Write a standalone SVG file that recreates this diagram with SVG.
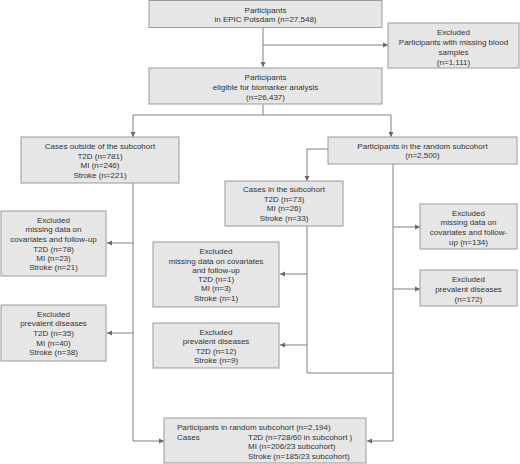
<svg xmlns="http://www.w3.org/2000/svg" width="520" height="464" viewBox="0 0 520 464">
<style>
rect.b{fill:#e6e6e6;stroke:#9a9a9a;stroke-width:1}
text{font-family:"Liberation Sans",Arial,sans-serif;font-size:8px;fill:#333}
.c{text-anchor:middle}
.l{fill:none;stroke:#808080;stroke-width:1}
</style>
<defs>
<marker id="ah" markerUnits="userSpaceOnUse" markerWidth="6" markerHeight="6" refX="5" refY="3" orient="auto">
<path d="M0,0.5 L5,3 L0,5.5 Z" fill="#6a6a6a"/>
</marker>
</defs>
<rect width="520" height="464" fill="#fff"/>
<g id="connectors">
<path class="l" d="M263,27.5 V67" marker-end="url(#ah)"/>
<path class="l" d="M263,45 H388" marker-end="url(#ah)"/>
<path class="l" d="M263,104.5 V115"/>
<path class="l" d="M133,115 H391"/>
<path class="l" d="M133,115 V137" marker-end="url(#ah)"/>
<path class="l" d="M391,115 V137" marker-end="url(#ah)"/>
<path class="l" d="M133,183 V441 H164" marker-end="url(#ah)"/>
<path class="l" d="M133,243 H107" marker-end="url(#ah)"/>
<path class="l" d="M133,333 H107" marker-end="url(#ah)"/>
<path class="l" d="M328,149 H307 V181" marker-end="url(#ah)"/>
<path class="l" d="M307,226 V373 H393"/>
<path class="l" d="M307,274 H280" marker-end="url(#ah)"/>
<path class="l" d="M307,345 H280" marker-end="url(#ah)"/>
<path class="l" d="M393,164 V441 H367" marker-end="url(#ah)"/>
<path class="l" d="M393,227 H420" marker-end="url(#ah)"/>
<path class="l" d="M393,289 H420" marker-end="url(#ah)"/>
</g>
<g id="n-epic">
<rect class="b" x="149" y="0.5" width="233" height="27"/>
<text class="c" x="265.5" y="13">Participants</text>
<text class="c" x="265.5" y="22">in EPIC Potsdam (n=27,548)</text>
</g>
<g id="n-excl-blood">
<rect class="b" x="388" y="23" width="131" height="45"/>
<text class="c" x="453.5" y="35">Excluded</text>
<text class="c" x="453.5" y="45">Participants with missing blood</text>
<text class="c" x="453.5" y="55">samples</text>
<text class="c" x="453.5" y="65">(n=1,111)</text>
</g>
<g id="n-eligible">
<rect class="b" x="149" y="68" width="233" height="36"/>
<text class="c" x="265.5" y="80">Participants</text>
<text class="c" x="265.5" y="89.5">eligible for biomarker analysis</text>
<text class="c" x="265.5" y="100">(n=26,437)</text>
</g>
<g id="n-cases-outside">
<rect class="b" x="21" y="137" width="158" height="46"/>
<text class="c" x="100" y="149">Cases outside of the subcohort</text>
<text class="c" x="100" y="159">T2D (n=781)</text>
<text class="c" x="100" y="168">MI (n=246)</text>
<text class="c" x="100" y="178">Stroke (n=221)</text>
</g>
<g id="n-random">
<rect class="b" x="328" y="137" width="189" height="27"/>
<text class="c" x="422.5" y="149">Participants in the random subcohort</text>
<text class="c" x="422.5" y="158">(n=2,500)</text>
</g>
<g id="n-excl-l1">
<rect class="b" x="1" y="211" width="105" height="65"/>
<text class="c" x="53.5" y="223">Excluded</text>
<text class="c" x="53.5" y="232">missing data on</text>
<text class="c" x="53.5" y="242">covariates and follow-up</text>
<text class="c" x="53.5" y="252">T2D (n=78)</text>
<text class="c" x="53.5" y="261">MI (n=23)</text>
<text class="c" x="53.5" y="270">Stroke (n=21)</text>
</g>
<g id="n-excl-l2">
<rect class="b" x="1" y="305" width="105" height="56"/>
<text class="c" x="53.5" y="317">Excluded</text>
<text class="c" x="53.5" y="326">prevalent diseases</text>
<text class="c" x="53.5" y="336">T2D (n=35)</text>
<text class="c" x="53.5" y="346">MI (n=40)</text>
<text class="c" x="53.5" y="355">Stroke (n=38)</text>
</g>
<g id="n-cases-sub">
<rect class="b" x="225" y="181" width="118" height="45"/>
<text class="c" x="284" y="192">Cases in the subcohort</text>
<text class="c" x="284" y="202">T2D (n=73)</text>
<text class="c" x="284" y="211">MI (n=26)</text>
<text class="c" x="284" y="221">Stroke (n=33)</text>
</g>
<g id="n-excl-m1">
<rect class="b" x="153" y="242" width="126" height="65"/>
<text class="c" x="216" y="254">Excluded</text>
<text class="c" x="216" y="264">missing data on covariates</text>
<text class="c" x="216" y="273">and follow-up</text>
<text class="c" x="216" y="282">T2D (n=1)</text>
<text class="c" x="216" y="291">MI (n=3)</text>
<text class="c" x="216" y="301">Stroke (n=1)</text>
</g>
<g id="n-excl-m2">
<rect class="b" x="153" y="323" width="126" height="45"/>
<text class="c" x="216" y="335">Excluded</text>
<text class="c" x="216" y="344">prevalent diseases</text>
<text class="c" x="216" y="354">T2D (n=12)</text>
<text class="c" x="216" y="363">Stroke (n=9)</text>
</g>
<g id="n-excl-r1">
<rect class="b" x="420" y="204" width="97" height="45"/>
<text class="c" x="468.5" y="216">Excluded</text>
<text class="c" x="468.5" y="225">missing data on</text>
<text class="c" x="468.5" y="235">covariates and follow-</text>
<text class="c" x="468.5" y="245">up (n=134)</text>
</g>
<g id="n-excl-r2">
<rect class="b" x="420" y="270" width="97" height="36"/>
<text class="c" x="468.5" y="282">Excluded</text>
<text class="c" x="468.5" y="292">prevalent diseases</text>
<text class="c" x="468.5" y="302">(n=172)</text>
</g>
<g id="n-final">
<rect class="b" x="164" y="418" width="202" height="45"/>
<text x="177" y="430">Participants in random subcohort (n=2,194)</text>
<text x="177" y="440">Cases</text>
<text x="248" y="440">T2D (n=728/60 in subcohort )</text>
<text x="248" y="449">MI (n=206/23 subcohort)</text>
<text x="248" y="459">Stroke (n=185/23 subcohort)</text>
</g>
</svg>
